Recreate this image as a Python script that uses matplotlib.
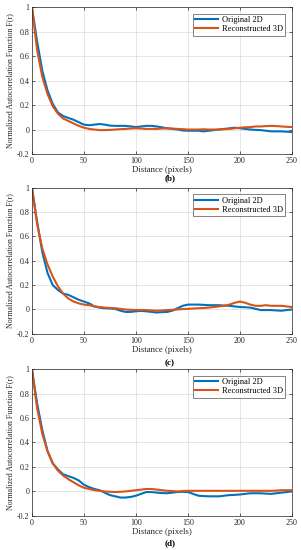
import numpy as np
from matplotlib import pyplot as plt

# Шаги по расстоянию (пиксели)
dist = [0, 5, 10, 15, 20, 25, 30, 35, 40, 45, 50, 55, 60, 65, 70, 75, 80, 85, 90, 95,
        100, 105, 110, 115, 120, 125, 130, 135, 140, 145, 150, 155, 160, 165, 170, 175,
        180, 185, 190, 195, 200, 205, 210, 215, 220, 225, 230, 235, 240, 245, 250]

# Панель (b)
orig_b = [1.0, 0.72, 0.48, 0.32, 0.21, 0.14, 0.11, 0.095, 0.08, 0.06, 0.04, 0.035, 0.04,
          0.045, 0.04, 0.032, 0.03, 0.03, 0.03, 0.025, 0.02, 0.025, 0.03, 0.03, 0.025,
          0.018, 0.01, 0.005, 0.0, -0.008, -0.01, -0.01, -0.01, -0.015, -0.01, -0.005,
          0.0, 0.005, 0.01, 0.015, 0.01, 0.005, 0.0, -0.003, -0.005, -0.01, -0.015,
          -0.015, -0.015, -0.018, -0.02]
rec_b = [1.0, 0.65, 0.43, 0.29, 0.19, 0.13, 0.09, 0.07, 0.05, 0.03, 0.015, 0.005, 0.0,
         -0.005, -0.005, -0.003, 0.0, 0.003, 0.005, 0.008, 0.01, 0.008, 0.005, 0.005,
         0.005, 0.008, 0.01, 0.008, 0.005, 0.003, 0.0, 0.0, 0.0, 0.002, 0.0, 0.0, 0.0,
         0.003, 0.005, 0.01, 0.015, 0.018, 0.02, 0.025, 0.025, 0.028, 0.03, 0.028,
         0.025, 0.022, 0.02]

# Панель (c)
orig_c = [1.0, 0.72, 0.47, 0.3, 0.2, 0.16, 0.13, 0.12, 0.1, 0.08, 0.065, 0.05, 0.025,
          0.015, 0.01, 0.008, 0.005, -0.01, -0.02, -0.02, -0.015, -0.012, -0.015, -0.02,
          -0.025, -0.022, -0.02, -0.01, 0.01, 0.03, 0.04, 0.04, 0.04, 0.038, 0.035,
          0.035, 0.035, 0.032, 0.03, 0.025, 0.02, 0.018, 0.015, 0.005, -0.005, -0.005,
          -0.005, -0.008, -0.01, -0.005, 0.0]
rec_c = [1.0, 0.7, 0.5, 0.37, 0.27, 0.19, 0.13, 0.09, 0.065, 0.05, 0.04, 0.035, 0.025,
         0.02, 0.015, 0.012, 0.01, 0.005, 0.0, -0.003, -0.005, -0.005, -0.005, -0.008,
         -0.01, -0.008, -0.005, -0.003, 0.0, 0.003, 0.005, 0.008, 0.01, 0.012, 0.015,
         0.02, 0.025, 0.03, 0.04, 0.055, 0.065, 0.055, 0.04, 0.03, 0.03, 0.035, 0.03,
         0.03, 0.03, 0.025, 0.02]

# Панель (d)
orig_d = [1.0, 0.72, 0.5, 0.33, 0.23, 0.18, 0.14, 0.125, 0.11, 0.09, 0.055, 0.035, 0.02,
          0.01, -0.01, -0.03, -0.04, -0.05, -0.05, -0.045, -0.035, -0.02, -0.005, -0.005,
          -0.01, -0.013, -0.015, -0.01, -0.005, -0.003, -0.005, -0.02, -0.035, -0.038,
          -0.04, -0.04, -0.04, -0.035, -0.03, -0.028, -0.025, -0.02, -0.015, -0.015,
          -0.015, -0.018, -0.02, -0.015, -0.01, -0.005, 0.0]
rec_d = [1.0, 0.68, 0.47, 0.33, 0.23, 0.17, 0.13, 0.1, 0.075, 0.05, 0.03, 0.02, 0.01,
         0.005, 0.0, -0.003, -0.005, -0.003, 0.0, 0.005, 0.01, 0.015, 0.02, 0.02, 0.015,
         0.01, 0.005, 0.003, 0.0, 0.003, 0.005, 0.005, 0.005, 0.005, 0.005, 0.005,
         0.005, 0.005, 0.005, 0.005, 0.005, 0.005, 0.005, 0.005, 0.005, 0.005, 0.005,
         0.007, 0.01, 0.01, 0.01]

panels = [
    ('(b)', orig_b, rec_b, [0.106, 0.720, 0.864, 0.267], 0.676),
    ('(c)', orig_c, rec_c, [0.106, 0.393, 0.864, 0.266], 0.340),
    ('(d)', orig_d, rec_d, [0.106, 0.062, 0.864, 0.267], 0.012),
]

plt.rcParams['font.family'] = ['Liberation Serif', 'DejaVu Serif']
fig = plt.figure(figsize=(3.01, 5.5), dpi=100)

for label, orig, rec, pos, label_y in panels:
    ax = fig.add_axes(pos)
    ax.plot(dist, orig, color='#0072BD', lw=1.5, label='Original 2D')
    ax.plot(dist, rec, color='#D95319', lw=1.5, label='Reconstructed 3D')
    ax.set_xlim(0, 250)
    ax.set_ylim(-0.2, 1)
    ax.set_xticks([0, 50, 100, 150, 200, 250])
    ax.set_yticks([-0.2, 0, 0.2, 0.4, 0.6, 0.8, 1])
    ax.set_yticklabels(['-0.2', '0', '0.2', '0.4', '0.6', '0.8', '1'])
    ax.grid(True, color='#dcdcdc', lw=0.5)
    ax.tick_params(direction='in', length=2, width=0.5, labelsize=5.8,
                   colors='#262626', top=True, right=True, pad=2)
    for s in ax.spines.values():
        s.set_linewidth(0.5)
        s.set_color('#262626')
    ax.set_xlabel('Distance (pixels)', fontsize=6.3, color='#262626', labelpad=1)
    ax.set_ylabel('Normalized Autocorrelation Function F(r)', fontsize=5.8,
                  color='#262626', labelpad=2)
    leg = ax.legend(loc='upper right', fontsize=6, frameon=True, fancybox=False,
                    edgecolor='#262626', handlelength=2.8, borderpad=0.3,
                    labelspacing=0.1, handletextpad=0.4, borderaxespad=0.8)
    leg.get_frame().set_linewidth(0.5)
    fig.text(0.565, label_y, label, ha='center', va='center', fontsize=6.5,
             fontweight='bold')

fig.savefig('out.png', dpi=100)
